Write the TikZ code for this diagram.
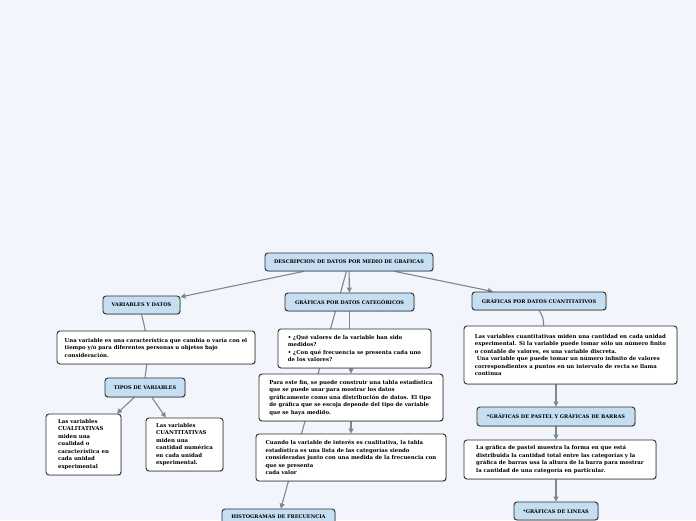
\documentclass[tikz,border=0pt]{standalone}
\usepackage{fontspec}
\setmainfont{DejaVu Serif}
\usetikzlibrary{arrows.meta, shadows}
\definecolor{mmback}{HTML}{F3F5FD}
\definecolor{mmhead}{HTML}{C6DEF2}
\definecolor{mmline}{HTML}{2E2E2E}
\definecolor{mmedge}{HTML}{7E8690}
\pgfdeclarelayer{bg}
\pgfdeclarelayer{edges}
\pgfsetlayers{bg,edges,main}

\begin{document}
\begin{tikzpicture}[
    x=1pt, y=-1pt,
    box/.style={rectangle, rounded corners=3pt, draw=mmline, line width=0.9pt,
                drop shadow={shadow xshift=0.8pt, shadow yshift=-0.8pt, opacity=0.3},
                inner sep=2pt},
    head/.style={box, fill=mmhead, minimum height=18pt, font=\fontsize{5}{7.5}\selectfont\bfseries},
    note/.style={box, fill=white, align=left, font=\fontsize{5.4}{7.5}\selectfont\bfseries},
    arr/.style={-{Triangle[length=5pt, width=5pt]}, line width=1.1pt, draw=mmedge},
    link/.style={line width=1.1pt, draw=mmedge}
  ]
    \begin{pgfonlayer}{bg}
      \fill[mmback] (0,0) rectangle (696,520);
    \end{pgfonlayer}
    \useasboundingbox (0,0) rectangle (696,520);

    \node[head, minimum width=168pt] (root) at (349,262) {DESCRIPCION DE DATOS POR MEDIO DE GRAFICAS};

    \node[head, minimum width=77pt] (vars) at (141.5,305) {VARIABLES Y DATOS};
    \node[note, minimum width=198pt, minimum height=33pt] (def) at (156,347.5)
      {Una variable es una característica que cambia o varía con el\\
       tiempo y/o para diferentes personas u objetos bajo\\
       consideración.};
    \node[head, minimum width=80pt, minimum height=19pt] (tipos) at (145,387.5) {TIPOS DE VARIABLES};
    \node[note, minimum width=75pt, minimum height=61pt] (cual) at (83.5,444.5)
      {Las variables\\ CUALITATIVAS\\ miden una\\ cualidad o\\ característica en\\ cada unidad\\ experimental};
    \node[note, minimum width=77pt, minimum height=53pt] (cuan) at (184.5,444.5)
      {Las variables\\ CUANTITATIVAS\\ miden una\\ cantidad numérica\\ en cada unidad\\ experimental.};

    \node[head, minimum width=129pt] (cat) at (349.5,302) {GRÁFICAS POR DATOS CATEGÓRICOS};
    \node[note, minimum width=153pt, minimum height=39pt] (quest) at (354.5,348.5)
      {• ¿Qué valores de la variable han sido\\
       medidos?\\
       • ¿Con qué frecuencia se presenta cada uno\\
       de los valores?};
    \node[note, minimum width=184pt, minimum height=47pt] (para) at (351,397.5)
      {Para este fin, se puede construir una tabla estadística\\
       que se puede usar para mostrar los datos\\
       gráficamente como una distribución de datos. El tipo\\
       de gráfica que se escoja depende del tipo de variable\\
       que se haya medido.};
    \node[note, minimum width=190pt, minimum height=47pt] (cuando) at (351,457.5)
      {Cuando la variable de interés es cualitativa, la tabla\\
       estadística es una lista de las categorías siendo\\
       consideradas junto con una medida de la frecuencia con\\
       que se presenta\\
       cada valor};
    \node[head, minimum width=113pt, minimum height=16pt] (hist) at (278.5,517) {HISTOGRAMAS DE FRECUENCIA};

    \node[head, minimum width=134pt] (cuant) at (539,301) {GRÁFICAS POR DATOS CUANTITATIVOS};
    \node[note, minimum width=213pt, minimum height=58pt] (cdesc) at (570.5,355)
      {Las variables cuantitativas miden una cantidad en cada unidad\\
       experimental. Si la variable puede tomar sólo un número finito\\
       o contable de valores, es una variable discreta.\\
       \ Una variable que puede tomar un número infinito de valores\\
       correspondientes a puntos en un intervalo de recta se llama\\
       continua};
    \node[head, minimum width=158pt, minimum height=19pt] (pastel) at (556,416.5) {*GRÁFICAS DE PASTEL Y GRÁFICAS DE BARRAS};
    \node[note, minimum width=192pt, minimum height=39pt] (pdesc) at (560,459.5)
      {La gráfica de pastel muestra la forma en que está\\
       distribuida la cantidad total entre las categorías y la\\
       gráfica de barras usa la altura de la barra para mostrar\\
       la cantidad de una categoría en particular.};
    \node[head, minimum width=84pt] (lineas) at (556,511) {*GRÁFICAS DE LINEAS};

    \begin{pgfonlayer}{edges}
      \draw[arr] (root) -- (vars);
      \draw[arr] (root) -- (cat);
      \draw[arr] (root) -- (cuant);
      \draw[arr] (root) -- (hist);
      \draw[link] (vars.south) to[bend left=12] (tipos.north);
      \draw[arr] (tipos) -- (cual);
      \draw[arr] (tipos) -- (cuan);
      \draw[link] (cat.south) -- (cat.south |- quest.north);
      \draw[arr] (quest.south -| para.north) -- (para.north);
      \draw[arr] (para.south) -- (cuando.north);
      \draw[link] (cuant.south) to[bend left=20] ([xshift=-27pt]cdesc.north);
      \draw[arr] (cdesc.south -| pastel.north) -- (pastel.north);
      \draw[arr] (pastel.south) -- (pastel.south |- pdesc.north);
      \draw[arr] (pdesc.south -| lineas.north) -- (lineas.north);
    \end{pgfonlayer}
  \end{tikzpicture}
\end{document}
